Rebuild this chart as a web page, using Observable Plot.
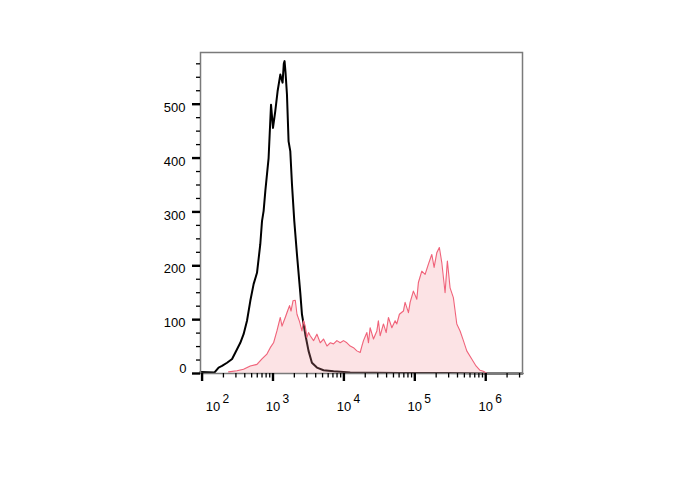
<!DOCTYPE html>
<html>
<head>
<meta charset="utf-8">
<script src="https://cdn.jsdelivr.net/npm/d3@7"></script>
<script src="https://cdn.jsdelivr.net/npm/@observablehq/plot@0.6"></script>
<style>
  html, body { margin: 0; padding: 0; background: #fff; }
  #chart svg { display: block; }
</style>
</head>
<body>
<div id="chart"></div>
<script>
// Control (black outline) histogram: fluorescence value, count
const controlX = [95, 150, 171, 191, 225, 265, 295, 346, 385, 430, 479, 533, 595, 662, 700, 738, 780, 867, 938, 1000, 1077, 1161, 1268, 1365, 1420, 1456, 1500, 1574, 1659, 1753, 1853, 1997, 2178, 2425, 2560, 2851, 3172, 3540, 4165, 5164, 7145, 12270, 61000, 300000, 1000000, 3300000];
const controlY = [3, 2, 11, 14, 20, 27, 39, 57, 73, 98, 135, 166, 187, 240, 283, 302, 339, 400, 499, 456, 487, 524, 555, 540, 575, 580, 560, 518, 431, 413, 351, 283, 221, 150, 110, 73, 42, 20, 11, 6, 4, 2, 1, 1, 0, 0];

// Stained (red, filled) histogram
const stainedX = [237, 311, 385, 479, 595, 700, 822, 916, 1019, 1137, 1268, 1340, 1490, 1606, 1714, 1795, 1916, 2063, 2178, 2346, 2560, 2698, 2851, 3010, 3172, 3350, 3733, 4165, 4637, 5164, 5768, 6412, 7145, 7965, 8870, 9870, 11010, 12270, 13650, 15230, 16970, 17940, 18890, 21090, 22200, 23440, 26120, 29170, 30640, 32430, 36130, 39450, 42480, 47440, 52840, 55760, 60670, 69090, 72960, 81290, 85910, 95530, 106700, 112400, 125500, 139700, 155600, 173500, 187100, 204200, 222000, 240000, 267100, 288000, 314100, 349700, 390800, 434800, 484200, 540000, 635000, 729700, 831000, 925000, 1043000];
const stainedY = [3, 5, 8, 14, 17, 27, 36, 48, 57, 79, 104, 88, 104, 116, 126, 116, 135, 136, 110, 98, 79, 98, 88, 67, 76, 70, 61, 73, 57, 64, 51, 57, 55, 61, 57, 61, 57, 51, 48, 42, 39, 51, 61, 76, 57, 85, 64, 79, 98, 70, 92, 76, 104, 85, 98, 92, 110, 116, 132, 113, 132, 153, 138, 169, 190, 184, 203, 221, 197, 224, 234, 206, 150, 209, 159, 141, 92, 79, 61, 42, 27, 14, 6, 4, 0];

// Axis ticks
const xMajor = [1e2, 1e3, 1e4, 1e5, 1e6];
const xExponents = ["2", "3", "4", "5", "6"];
const yMajor = [0, 100, 200, 300, 400, 500];
const yMinorStep = 25;

const control = controlX.map((x, i) => ({x, y: controlY[i]}));
const stained = stainedX.map((x, i) => ({x, y: stainedY[i]}));

const xMinor = [];
for (let e = 1; e <= 6; e++) for (let m = 2; m <= 9; m++) {
  const v = m * 10 ** e;
  if (v >= 95 && v <= 3.3e6) xMinor.push(v);
}
const yMinor = d3.range(0, 600, yMinorStep).filter(v => !yMajor.includes(v));

const font = "'Liberation Sans', Arial, Helvetica, sans-serif";
const xLabels = xMajor.map((v, i) => ({v, e: xExponents[i], s: i === 0 ? 11 : 0}));

const labelMarks = xLabels.flatMap(l => [
  Plot.text([l], {x: "v", y: () => 0, text: () => "10", textAnchor: "middle", lineAnchor: "bottom", dx: l.s, dy: 37.5, fontSize: 13, fill: "#000", fontFamily: font}),
  Plot.text([l], {x: "v", y: () => 0, text: "e", textAnchor: "start", lineAnchor: "bottom", dx: l.s + 9.5, dy: 29, fontSize: 12, fill: "#000", fontFamily: font})
]);

const chart = Plot.plot({
  width: 688,
  height: 490,
  marginLeft: 200,
  marginRight: 166,
  marginTop: 52,
  marginBottom: 117,
  style: {fontFamily: font, background: "#fff", overflow: "visible"},
  x: {type: "log", domain: [95, 3.3e6]},
  y: {domain: [0, 596]},
  marks: [
    Plot.lineY(control, {x: "x", y: "y", stroke: "#000", strokeWidth: 2}),
    Plot.areaY(stained, {x: "x", y: "y", fill: "#f48e99", fillOpacity: 0.25}),
    Plot.lineY(stained, {x: "x", y: "y", stroke: "#f0637a", strokeWidth: 1.1}),
    Plot.frame({stroke: "#7a7a7a", strokeWidth: 1.5}),
    // x axis ticks
    Plot.axisX({ticks: xMinor, tickSize: 4.5, strokeWidth: 1.3, stroke: "#000", tickFormat: () => "", label: null}),
    Plot.axisX({ticks: xMajor, tickSize: 8, strokeWidth: 2.4, stroke: "#000", tickFormat: () => "", label: null}),
    // y axis ticks
    Plot.axisY({ticks: yMinor, tickSize: 4, strokeWidth: 1.3, stroke: "#000", tickFormat: () => "", label: null}),
    Plot.axisY({ticks: yMajor, tickSize: 8, strokeWidth: 2.4, stroke: "#000", tickFormat: () => "", label: null}),
    // y labels
    Plot.text(yMajor.filter(v => v > 0), {x: 95, y: d => d, text: d => String(d), textAnchor: "end", dx: -15, dy: 3.5, fontSize: 13, fill: "#000", fontFamily: font}),
    Plot.text([0], {x: 95, y: d => d, text: d => String(d), textAnchor: "end", dx: -14, dy: -5, fontSize: 13, fill: "#000", fontFamily: font}),
    ...labelMarks
  ]
});

document.getElementById("chart").appendChild(chart);
</script>
</body>
</html>
